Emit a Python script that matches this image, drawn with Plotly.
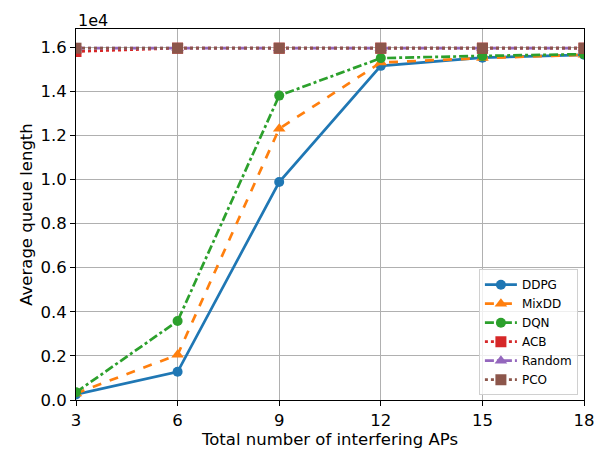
import plotly.graph_objects as go

# Number of interfering APs
aps = [3, 6, 9, 12, 15, 18]

# Average queue length per scheme
ddpg = [250, 1280, 9880, 15150, 15520, 15650]
mixdd = [300, 2050, 12300, 15300, 15500, 15650]
dqn = [350, 3580, 13800, 15500, 15600, 15680]
acb = [15800, 15950, 15950, 15950, 15950, 15950]
random_ = [15950, 15950, 15950, 15950, 15950, 15950]
pco = [15950, 15950, 15950, 15950, 15950, 15950]

y_ticks = [0.0, 0.2, 0.4, 0.6, 0.8, 1.0, 1.2, 1.4, 1.6]
x_ticks = [3, 6, 9, 12, 15, 18]

SCALE = 1e4

series = [
    ("DDPG", ddpg, "#1f77b4", "solid", "circle"),
    ("MixDD", mixdd, "#ff7f0e", "dash", "triangle-up"),
    ("DQN", dqn, "#2ca02c", "dashdot", "circle"),
    ("ACB", acb, "#d62728", "dot", "square"),
    ("Random", random_, "#9467bd", "dashdot", "triangle-up"),
    ("PCO", pco, "#8c564b", "dot", "square"),
]

fig = go.Figure()
for name, vals, color, dash, sym in series:
    size = 11 if sym != "circle" else 10
    fig.add_trace(go.Scatter(
        x=aps, y=[v / SCALE for v in vals], name=name, mode="lines+markers",
        line=dict(color=color, width=2.7, dash=dash),
        marker=dict(symbol=sym, size=size, color=color),
    ))

font = "DejaVu Sans, sans-serif"
fig.update_layout(
    width=610, height=451,
    margin=dict(l=76, r=26, t=29, b=51),
    plot_bgcolor="white", paper_bgcolor="white",
    font=dict(family=font, size=16, color="black"),
    showlegend=True,
    legend=dict(
        x=0.988, y=0.013, xanchor="right", yanchor="bottom",
        bgcolor="rgba(255,255,255,0.8)", bordercolor="#d0d0d0", borderwidth=1,
        font=dict(size=12), tracegroupgap=0, itemwidth=32,
    ),
    annotations=[dict(
        text="1e4", xref="paper", yref="paper", x=0, y=1.0,
        xanchor="left", yanchor="bottom", showarrow=False,
        font=dict(size=16), yshift=-3,
    )],
)
fig.update_xaxes(
    range=[3, 18], tickvals=x_ticks, ticktext=[str(t) for t in x_ticks],
    showgrid=True, gridcolor="#b0b0b0", gridwidth=1,
    showline=True, linecolor="black", linewidth=1, mirror=True,
    ticks="outside", ticklen=5, tickcolor="black",
    tickfont=dict(size=16.5), automargin=False,
    title=dict(text="Total number of interfering APs", font=dict(size=16.5), standoff=3),
    zeroline=False,
)
fig.update_yaxes(
    range=[0, 1.682], tickvals=y_ticks, ticktext=[f"{t:.1f}" for t in y_ticks],
    showgrid=True, gridcolor="#b0b0b0", gridwidth=1,
    showline=True, linecolor="black", linewidth=1, mirror=True,
    ticks="outside", ticklen=5, tickcolor="black",
    tickfont=dict(size=16.5), automargin=False,
    title=dict(text="Average queue length", font=dict(size=16.5), standoff=3),
    zeroline=False,
)

fig.write_html("out.html")
